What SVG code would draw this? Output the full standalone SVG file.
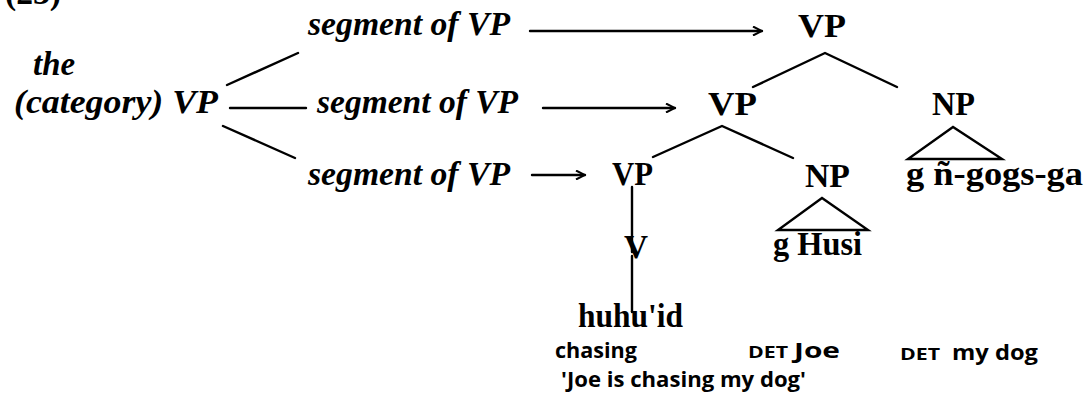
<svg xmlns="http://www.w3.org/2000/svg" width="1087" height="399" viewBox="0 0 1087 399">
<style>
.it{font-family:"Liberation Serif","Times New Roman",serif;font-style:italic;font-weight:bold;font-size:33px;fill:#000}
.nd{font-family:"Liberation Serif","Times New Roman",serif;font-weight:bold;font-size:33px;fill:#000}
.gl{font-family:"Open Sans","DejaVu Sans",sans-serif;font-weight:700;font-size:22px;fill:#000}
.sc{font-family:"Open Sans","DejaVu Sans",sans-serif;font-weight:700;font-size:16px;fill:#000}
.ln{stroke:#000;stroke-width:2.4;fill:none;stroke-linecap:round}
</style>
<defs>
<marker id="ah" viewBox="0 0 10 10" refX="10" refY="5" markerWidth="10" markerHeight="10" markerUnits="userSpaceOnUse" orient="auto">
<path d="M1,0.5 L10,5 L1,9.5" fill="none" stroke="#000" stroke-width="2"/>
</marker>
</defs>
<g id="label23"><text class="nd" x="5" y="4" font-size="30" textLength="56" lengthAdjust="spacingAndGlyphs">(23)</text></g>
<g id="cat"><text class="it" x="33" y="75" textLength="42" lengthAdjust="spacingAndGlyphs">the</text>
<text class="it" x="14" y="113" textLength="204" lengthAdjust="spacingAndGlyphs">(category) VP</text></g>
<g id="seg1"><text class="it" x="308" y="35" textLength="202" lengthAdjust="spacingAndGlyphs">segment of VP</text></g>
<g id="seg2"><text class="it" x="317" y="113" textLength="201" lengthAdjust="spacingAndGlyphs">segment of VP</text></g>
<g id="seg3"><text class="it" x="308" y="185" textLength="202" lengthAdjust="spacingAndGlyphs">segment of VP</text></g>
<g id="vp1"><text class="nd" x="798" y="37" textLength="48" lengthAdjust="spacingAndGlyphs">VP</text></g>
<g id="vp2"><text class="nd" x="708" y="115" textLength="49" lengthAdjust="spacingAndGlyphs">VP</text></g>
<g id="np1"><text class="nd" x="932" y="115" textLength="43" lengthAdjust="spacingAndGlyphs">NP</text></g>
<g id="vp3"><text class="nd" x="612" y="185" textLength="41" lengthAdjust="spacingAndGlyphs">VP</text></g>
<g id="np2"><text class="nd" x="805" y="187" textLength="45" lengthAdjust="spacingAndGlyphs">NP</text></g>
<g id="dog"><text class="nd" x="906" y="185" textLength="177" lengthAdjust="spacingAndGlyphs">g  ñ-gogs-ga</text></g>
<g id="v"><text class="nd" x="624" y="258" textLength="24" lengthAdjust="spacingAndGlyphs">V</text></g>
<g id="husi"><text class="nd" x="773" y="255" textLength="89" lengthAdjust="spacingAndGlyphs">g Husi</text></g>
<g id="huhuid"><text class="nd" x="578" y="327" textLength="105" lengthAdjust="spacingAndGlyphs">huhu'id</text></g>
<g id="gloss">
<text class="gl" x="555" y="358" textLength="82" lengthAdjust="spacingAndGlyphs">chasing</text>
<text class="sc" x="748" y="358" textLength="40" lengthAdjust="spacingAndGlyphs">DET</text>
<text class="gl" x="794" y="358" textLength="46" lengthAdjust="spacingAndGlyphs">Joe</text>
<text class="sc" x="900" y="360" textLength="40" lengthAdjust="spacingAndGlyphs">DET</text>
<text class="gl" x="952" y="360" textLength="86" lengthAdjust="spacingAndGlyphs">my dog</text>
<text class="gl" x="561" y="387" textLength="245" lengthAdjust="spacingAndGlyphs">'Joe is chasing my dog'</text>
</g>
<g id="connectors">
<line class="ln" x1="227" y1="85" x2="298" y2="53"/>
<line class="ln" x1="230" y1="108" x2="306" y2="108"/>
<line class="ln" x1="223" y1="126" x2="295" y2="158"/>
<line class="ln" x1="530" y1="31" x2="762" y2="31" marker-end="url(#ah)"/>
<line class="ln" x1="543" y1="108" x2="675" y2="108" marker-end="url(#ah)"/>
<line class="ln" x1="532" y1="175" x2="585" y2="175" marker-end="url(#ah)"/>
<polyline class="ln" points="753,87 825,53 897,87"/>
<polyline class="ln" points="653,157 722,126 793,158"/>
<polygon class="ln" points="953,127 908,159 1002,159"/>
<polygon class="ln" points="822,198 778,230 868,230"/>
<line class="ln" x1="632" y1="187" x2="632" y2="252"/>
<line class="ln" x1="632" y1="256" x2="632" y2="312"/>
</g>
</svg>
